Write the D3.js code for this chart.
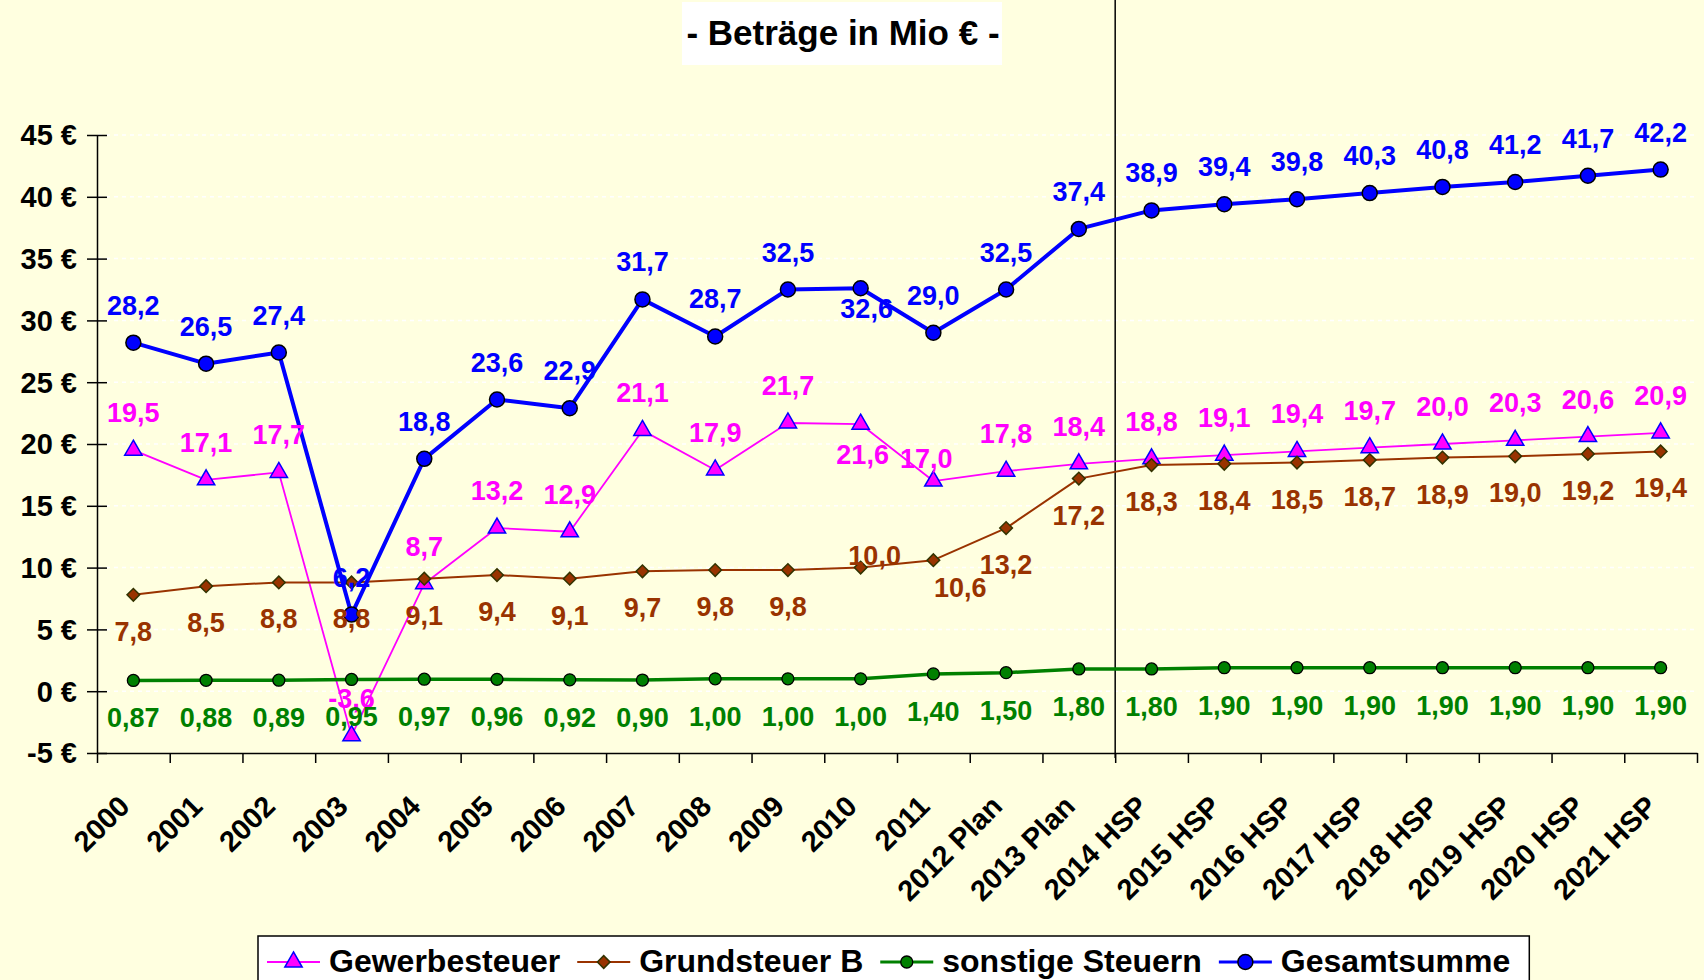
<!DOCTYPE html>
<html>
<head>
<meta charset="utf-8">
<script src="https://cdn.jsdelivr.net/npm/d3@7"></script>
<style>
  body { margin: 0; background: #FFFFE0; }
  svg { display: block; }
  text { font-family: Arial, "Liberation Sans", sans-serif; font-weight: bold; }
</style>
</head>
<body>
<svg id="chart"></svg>
<script>
// Data (Mio €)
const categories = ["2000", "2001", "2002", "2003", "2004", "2005", "2006", "2007", "2008", "2009", "2010", "2011",
  "2012 Plan", "2013 Plan", "2014 HSP", "2015 HSP", "2016 HSP", "2017 HSP", "2018 HSP", "2019 HSP", "2020 HSP", "2021 HSP"];
const gewerbesteuer = [19.5, 17.1, 17.7, -3.6, 8.7, 13.2, 12.9, 21.1, 17.9, 21.7, 21.6, 17.0, 17.8, 18.4, 18.8, 19.1, 19.4, 19.7, 20.0, 20.3, 20.6, 20.9];
const grundsteuerB = [7.8, 8.5, 8.8, 8.8, 9.1, 9.4, 9.1, 9.7, 9.8, 9.8, 10.0, 10.6, 13.2, 17.2, 18.3, 18.4, 18.5, 18.7, 18.9, 19.0, 19.2, 19.4];
const sonstigeSteuern = [0.87, 0.88, 0.89, 0.95, 0.97, 0.96, 0.92, 0.90, 1.00, 1.00, 1.00, 1.40, 1.50, 1.80, 1.80, 1.90, 1.90, 1.90, 1.90, 1.90, 1.90, 1.90];
const gesamtsumme = [28.2, 26.5, 27.4, 6.2, 18.8, 23.6, 22.9, 31.7, 28.7, 32.5, 32.6, 29.0, 32.5, 37.4, 38.9, 39.4, 39.8, 40.3, 40.8, 41.2, 41.7, 42.2];
const yTicks = [-5, 0, 5, 10, 15, 20, 25, 30, 35, 40, 45];
const title = "- Beträge in Mio € -";

// German number format (comma decimal, plain hyphen minus)
const de = d3.formatLocale({ decimal: ",", thousands: ".", grouping: [3], currency: ["", " €"], minus: "-" });

// Series styling
const series = [
  { name: "Gewerbesteuer", values: gewerbesteuer, color: "#FF00FF", lineWidth: 1.8, marker: "triangle",
    fill: "#FF00FF", stroke: "#0000FF", digits: 1, labelDy: -28 },
  { name: "Grundsteuer B", values: grundsteuerB, color: "#993300", lineWidth: 2, marker: "diamond",
    fill: "#993300", stroke: "#333300", digits: 1, labelDy: 46 },
  { name: "sonstige Steuern", values: sonstigeSteuern, color: "#008000", lineWidth: 3.5, marker: "smallCircle",
    fill: "#008000", stroke: "#000000", digits: 2, labelDy: 47 },
  { name: "Gesamtsumme", values: gesamtsumme, color: "#0000FF", lineWidth: 4, marker: "circle",
    fill: "#0000FF", stroke: "#000000", digits: 1, labelDy: -28 }
];

// Some labels were moved by hand in the original chart: [dx, dy] by category index
const labelTweaks = {
  "Gewerbesteuer": { 10: [2, 40], 11: [-7, -13] },
  "Grundsteuer B": { 10: [14, -3], 11: [27, 37] },
  "Gesamtsumme": { 10: [6, 30] }
};

const width = 1704, height = 980;
const plot = { left: 97, right: 1697, top: 135, bottom: 753 };

const svg = d3.select("#chart").attr("width", width).attr("height", height);

// background
svg.append("rect").attr("width", width).attr("height", height).attr("fill", "#FFFFE0");

// Scales
const x = d3.scaleBand().domain(categories).range([plot.left, plot.right]).padding(0);
const xIdx = d3.scaleLinear().domain([0, categories.length]).range([plot.left, plot.right]);
const y = d3.scaleLinear().domain([-5, 45]).range([plot.bottom, plot.top]);
const cx = i => x(categories[i]) + x.bandwidth() / 2;

// Gridlines (white dashed)
svg.append("g")
  .selectAll("line")
  .data(yTicks.filter(v => v > -5))
  .join("line")
  .attr("x1", plot.left + 1)
  .attr("x2", plot.right)
  .attr("y1", d => y(d))
  .attr("y2", d => y(d))
  .attr("stroke", "#ffffff")
  .attr("stroke-width", 1.5)
  .attr("stroke-dasharray", "4,4");

// Separator between plan years and HSP years
svg.append("line")
  .attr("x1", x("2014 HSP")).attr("x2", x("2014 HSP"))
  .attr("y1", 0).attr("y2", plot.bottom + 5)
  .attr("stroke", "#000").attr("stroke-width", 1.5);

// Title box
svg.append("rect")
  .attr("x", 682).attr("y", 2).attr("width", 320).attr("height", 63)
  .attr("fill", "#ffffff");
svg.append("text")
  .attr("x", 843).attr("y", 45)
  .attr("text-anchor", "middle")
  .attr("font-size", 35)
  .attr("fill", "#000")
  .text(title);

// Y axis
const yAxis = d3.axisLeft(y)
  .tickValues(yTicks)
  .tickSize(10)
  .tickSizeOuter(0)
  .tickPadding(10)
  .tickFormat(d => de.format("d")(d) + " €");

const gy = svg.append("g")
  .attr("transform", `translate(${plot.left},0)`)
  .call(yAxis);
gy.attr("font-family", null).attr("font-size", null);
gy.select(".domain").attr("stroke", "#000").attr("stroke-width", 1.5);
gy.selectAll(".tick line").attr("x1", 10).attr("stroke", "#000").attr("stroke-width", 1.5);
gy.selectAll(".tick text")
  .attr("font-size", 29)
  .attr("fill", "#000")
  .attr("dy", "0.34em");

// X axis: ticks between categories
const xAxis = d3.axisBottom(xIdx)
  .tickValues(d3.range(0, categories.length + 1))
  .tickSize(10)
  .tickSizeOuter(0)
  .tickFormat("");

const gx = svg.append("g")
  .attr("transform", `translate(0,${plot.bottom})`)
  .call(xAxis);
gx.select(".domain").attr("stroke", "#000").attr("stroke-width", 1.5);
gx.selectAll(".tick line").attr("stroke", "#000").attr("stroke-width", 1.5);

// X labels, rotated
svg.append("g")
  .selectAll("text")
  .data(categories)
  .join("text")
  .attr("transform", (d, i) => `translate(${cx(i) - 2},808) rotate(-45)`)
  .attr("text-anchor", "end")
  .attr("font-size", 29)
  .attr("fill", "#000")
  .text(d => d);

// Marker drawing helper
function drawMarker(sel, s) {
  if (s.marker === "triangle") {
    sel.append("path")
      .attr("d", d3.symbol(d3.symbolTriangle, 130)())
      .attr("fill", s.fill).attr("stroke", s.stroke).attr("stroke-width", 1.5);
  } else if (s.marker === "diamond") {
    sel.append("path")
      .attr("d", d3.symbol(d3.symbolSquare, 80)())
      .attr("transform", "rotate(45)")
      .attr("fill", s.fill).attr("stroke", s.stroke).attr("stroke-width", 1.5);
  } else if (s.marker === "smallCircle") {
    sel.append("circle").attr("r", 6)
      .attr("fill", s.fill).attr("stroke", s.stroke).attr("stroke-width", 1.3);
  } else {
    sel.append("circle").attr("r", 7.5)
      .attr("fill", s.fill).attr("stroke", s.stroke).attr("stroke-width", 1.5);
  }
}

const line = d3.line()
  .x((d, i) => cx(i))
  .y(d => y(d));

// Lines and markers
series.forEach(s => {
  const g = svg.append("g");
  g.append("path")
    .datum(s.values)
    .attr("d", line)
    .attr("fill", "none")
    .attr("stroke", s.color)
    .attr("stroke-width", s.lineWidth)
    .attr("stroke-linejoin", "round");

  g.selectAll(".marker")
    .data(s.values)
    .join("g")
    .attr("class", "marker")
    .attr("transform", (d, i) => `translate(${cx(i)},${y(d)})`)
    .each(function () { drawMarker(d3.select(this), s); });
});

// Data labels (drawn on top of every series)
series.forEach(s => {
  const fmt = de.format(`.${s.digits}f`);
  const tweaks = labelTweaks[s.name] || {};
  svg.append("g")
    .selectAll("text")
    .data(s.values)
    .join("text")
    .attr("x", (d, i) => cx(i) + (tweaks[i] ? tweaks[i][0] : 0))
    .attr("y", (d, i) => y(d) + (tweaks[i] ? tweaks[i][1] : s.labelDy))
    .attr("text-anchor", "middle")
    .attr("font-size", 27)
    .attr("fill", s.color)
    .text(d => fmt(d));
});

// Legend
const legend = svg.append("g");
const legendBox = legend.append("rect")
  .attr("x", 258).attr("y", 936).attr("height", 70)
  .attr("fill", "#ffffff").attr("stroke", "#000").attr("stroke-width", 1.5);

let lx = 267;
const ly = 962;
series.forEach(s => {
  legend.append("line")
    .attr("x1", lx).attr("x2", lx + 53)
    .attr("y1", ly).attr("y2", ly)
    .attr("stroke", s.color).attr("stroke-width", Math.min(s.lineWidth, 3));
  const m = legend.append("g").attr("transform", `translate(${lx + 26.5},${ly})`);
  drawMarker(m, s);
  const t = legend.append("text")
    .attr("x", lx + 62).attr("y", 972)
    .attr("font-size", 32)
    .attr("fill", "#000")
    .text(s.name);
  lx = lx + 62 + t.node().getComputedTextLength() + 17;
});
legendBox.attr("width", lx + 2 - 258);
</script>
</body>
</html>
